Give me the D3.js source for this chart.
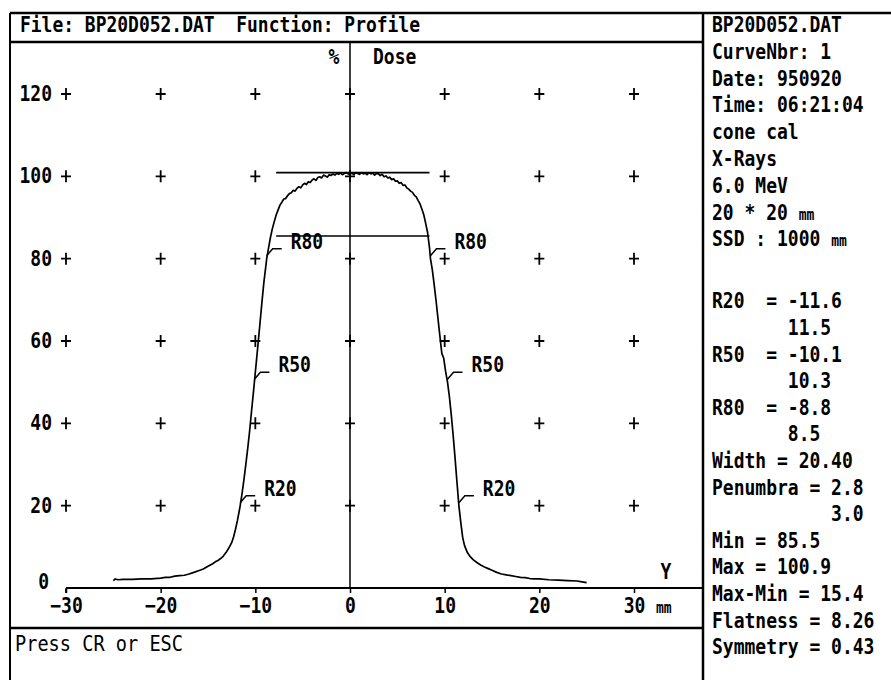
<!DOCTYPE html>
<html><head><meta charset="utf-8">
<script src="https://cdn.jsdelivr.net/npm/d3@7/dist/d3.min.js"></script>
<style>
body{margin:0;background:#fff}
svg{display:block}
text{font-family:"DejaVu Sans Mono","Liberation Mono",monospace;font-weight:bold;font-size:18px;fill:#000;white-space:pre}
</style>
</head><body><svg id="c" width="891" height="680"></svg>
<script>
// ---------- data ----------
const profileMm = [-25.0,-24.8,-24.5,-24.0,-23.0,-22.0,-21.0,-20.0,-19.5,-19.0,-18.5,-18.0,-17.5,-17.0,-16.5,-16.0,-15.5,-15.0,-14.5,-14.2,-14.0,-13.7,-13.4,-13.1,-12.8,-12.5,-12.3,-12.1,-11.9,-11.7,-11.6,-11.4,-11.2,-11.0,-10.8,-10.6,-10.4,-10.2,-10.1,-9.9,-9.7,-9.5,-9.3,-9.1,-8.9,-8.8,-8.6,-8.4,-8.2,-8.0,-7.8,-7.6,-7.4,-7.2,-7.0,-6.8,-6.6,-6.4,-6.2,-6.0,-5.8,-5.6,-5.4,-5.2,-5.0,-4.8,-4.6,-4.4,-4.2,-4.0,-3.8,-3.6,-3.4,-3.2,-3.0,-2.8,-2.6,-2.4,-2.2,-2.0,-1.8,-1.6,-1.4,-1.2,-1.0,-0.8,-0.6,-0.4,-0.2,0.0,0.2,0.4,0.6,0.8,1.0,1.2,1.4,1.6,1.8,2.0,2.2,2.4,2.6,2.8,3.0,3.2,3.4,3.6,3.8,4.0,4.2,4.4,4.6,4.8,5.0,5.2,5.4,5.6,5.8,6.0,6.2,6.4,6.6,6.8,7.0,7.2,7.4,7.6,7.8,8.0,8.2,8.4,8.5,8.7,8.9,9.1,9.3,9.5,9.7,9.9,10.1,10.3,10.5,10.7,10.9,11.1,11.3,11.5,11.7,11.9,12.1,12.4,12.7,13.0,13.4,13.8,14.2,14.6,15.0,15.5,16.0,16.5,17.0,17.5,18.0,18.5,19.0,19.5,20.0,21.0,22.0,23.0,24.0,24.5,25.0];
const profileDose = [1.8,2.2,2.0,2.1,2.1,2.2,2.2,2.4,2.6,2.6,2.9,3.0,3.1,3.4,3.8,4.2,4.6,5.3,5.9,6.4,6.6,7.1,7.7,8.6,9.7,11.0,12.4,14.2,16.3,18.7,20.0,23.0,26.4,30.1,34.0,38.2,43.0,47.6,50.0,54.8,59.6,64.5,69.5,74.2,78.0,80.0,82.6,85.2,87.3,89.0,90.6,91.8,93.0,93.7,94.5,94.6,95.3,95.8,96.0,96.6,96.4,97.1,97.5,97.2,97.9,98.3,98.0,98.7,98.5,99.1,99.4,99.0,99.7,99.9,99.6,100.3,100.1,99.8,100.4,100.2,100.6,100.3,100.7,100.5,100.8,100.4,100.7,100.9,100.6,100.5,100.8,100.4,100.9,100.7,100.5,100.9,100.6,100.8,100.4,100.9,100.6,100.8,100.3,100.7,100.6,100.2,100.5,99.9,100.1,99.6,99.8,99.2,99.4,98.8,98.9,98.3,98.5,97.8,97.9,97.2,96.9,96.4,96.1,95.4,95.0,94.1,93.3,92.0,90.6,88.5,86.3,82.6,80.0,77.2,73.5,69.6,65.3,61.1,57.0,55.8,52.6,50.0,46.5,42.0,37.0,31.5,25.7,20.0,16.0,12.3,10.3,8.6,7.6,6.9,6.2,5.6,5.1,4.7,4.3,3.8,3.4,3.2,3.0,2.8,2.6,2.5,2.3,2.2,2.2,2.0,1.9,1.8,1.7,1.5,1.3];

const xTicks = [-30,-20,-10,0,10,20,30];
const yTicks = [0,20,40,60,80,100,120];
const gridX = [-30,-20,-10,0,10,20,30];
const gridY = [20,40,60,80,100,120];

const rNames = ["R80","R80","R50","R50","R20","R20"];
const rPos = [-8.8,8.5,-10.1,10.3,-11.6,11.5];
const rLevel = [80,80,50,50,20,20];

const flatLevels = [100.9,85.5];
const flatRange = [-7.8,8.4];

const headerText = "File: BP20D052.DAT  Function: Profile";
const footerText = "Press CR or ESC";
const infoTop = ["BP20D052.DAT","CurveNbr: 1","Date: 950920","Time: 06:21:04","cone cal","X-Rays","6.0 MeV","20 * 20 mm","SSD : 1000 mm"];
const infoBottom = ["R20  = -11.6","       11.5","R50  = -10.1","       10.3","R80  = -8.8","       8.5","Width = 20.40","Penumbra = 2.8","           3.0","Min = 85.5","Max = 100.9","Max-Min = 15.4","Flatness = 8.26","Symmetry = 0.43"];

// ---------- drawing ----------
const svg = d3.select("#c");
const x = d3.scaleLinear().domain([-30,30]).range([66,634]);
const y = d3.scaleLinear().domain([0,120]).range([588,94]);

// frame
const frame = svg.append("g").attr("stroke","#000").attr("fill","none");
frame.append("line").attr("x1",10).attr("x2",891).attr("y1",13).attr("y2",13).attr("stroke-width",2.5);
frame.append("line").attr("x1",10).attr("x2",10).attr("y1",13).attr("y2",680).attr("stroke-width",2);
frame.append("line").attr("x1",10).attr("x2",703).attr("y1",42).attr("y2",42).attr("stroke-width",2.5);
frame.append("line").attr("x1",703).attr("x2",703).attr("y1",13).attr("y2",680).attr("stroke-width",2.5);
frame.append("line").attr("x1",10).attr("x2",703).attr("y1",628).attr("y2",628).attr("stroke-width",2.5);

svg.append("text").attr("x",20).attr("y",32).attr("textLength",400).attr("lengthAdjust","spacingAndGlyphs").text(headerText);
svg.append("text").attr("x",15).attr("y",651).style("font-weight","normal").attr("textLength",168).attr("lengthAdjust","spacingAndGlyphs").text(footerText);

// axes
const xAxis = d3.axisBottom(x).tickValues(xTicks).tickSize(5).tickFormat(d3.format("d"));
const gx = svg.append("g").attr("transform",`translate(0,${y(0)})`).call(xAxis);
gx.attr("font-family",null).attr("font-size",null);
gx.select(".domain").attr("d",`M${x(-30)},0.5V5M${x(-30)},0H703`).attr("stroke","#000").attr("stroke-width",1.8);
gx.selectAll(".tick line").attr("stroke","#000").attr("stroke-width",1.5);
gx.selectAll(".tick text").attr("y",25).attr("dy",null).attr("fill","#000");

// vertical axis at 0
svg.append("line").attr("x1",x(0)).attr("x2",x(0)).attr("y1",42).attr("y2",y(0)).attr("stroke","#000").attr("stroke-width",1.5);

// y labels
svg.selectAll("text.ylab").data(yTicks).enter().append("text").attr("class","ylab")
  .attr("x",d=> d===0 ? 49 : 52).attr("y",d=> d===0 ? y(d)+1 : y(d)+7)
  .attr("text-anchor","end").text(d=>d);

// grid crosses
const crosses = [];
gridX.forEach(gx0=>gridY.forEach(gy0=>crosses.push([gx0,gy0])));
svg.append("g").selectAll("path").data(crosses).enter().append("path")
  .attr("d",d=>`M${x(d[0])-5},${y(d[1])}h10M${x(d[0])},${y(d[1])-6}v12`)
  .attr("stroke","#000").attr("stroke-width",1.8).attr("fill","none");

// axis labels
svg.append("text").attr("x",334).attr("y",64).attr("text-anchor","middle").text("%");
svg.append("text").attr("x",373).attr("y",64).text("Dose");
svg.append("text").attr("x",666).attr("y",579).attr("text-anchor","middle").text("Y");
svg.append("text").attr("x",656).attr("y",613).style("font-size","13px").text("mm");

// flatness lines
svg.append("g").selectAll("line").data(flatLevels).enter().append("line")
  .attr("x1",x(flatRange[0])).attr("x2",x(flatRange[1]))
  .attr("y1",d=>y(d)).attr("y2",d=>y(d)).attr("stroke","#000").attr("stroke-width",1.6);

// profile curve
const pts = profileMm.map((m,i)=>[m,profileDose[i]]);
svg.append("path").datum(pts)
  .attr("d",d3.line().x(d=>x(d[0])).y(d=>y(d[1])))
  .attr("fill","none").attr("stroke","#000").attr("stroke-width",1.7).attr("stroke-linejoin","round");

// R markers
const marks = rNames.map((n,i)=>({n,p:rPos[i],l:rLevel[i]}));
const mg = svg.append("g").selectAll("g").data(marks).enter().append("g");
mg.append("path").attr("d",d=>{const px=x(d.p),py=y(d.l);return `M${px},${py-3}L${px+6},${py-10}H${px+15}`;})
  .attr("stroke","#000").attr("stroke-width",1.5).attr("fill","none");
mg.append("text").attr("x",d=>x(d.p)+24).attr("y",d=>y(d.l)-10).text(d=>d.n);

// info panel
function addInfo(data, y0, step){
  const t = svg.append("g").selectAll("text").data(data).enter().append("text")
    .attr("x",712).attr("y",(d,i)=>y0+i*step).attr("xml:space","preserve");
  t.each(function(d){
    const el = d3.select(this);
    const m = d.match(/^(.*) mm$/);
    if(m){ el.append("tspan").text(m[1]+" "); el.append("tspan").style("font-size","13px").text("mm"); }
    else el.text(d);
  });
}
addInfo(infoTop, 32, 26.8);
addInfo(infoBottom, 308.5, 26.6);

// tall VGA-like glyphs: stretch every text vertically about its baseline
svg.selectAll("text").each(function(){
  const el = d3.select(this);
  const yy = +el.attr("y") || 0;
  el.attr("transform",`translate(0,${yy}) scale(1,1.17) translate(0,${-yy})`);
});
</script>
</body></html>
